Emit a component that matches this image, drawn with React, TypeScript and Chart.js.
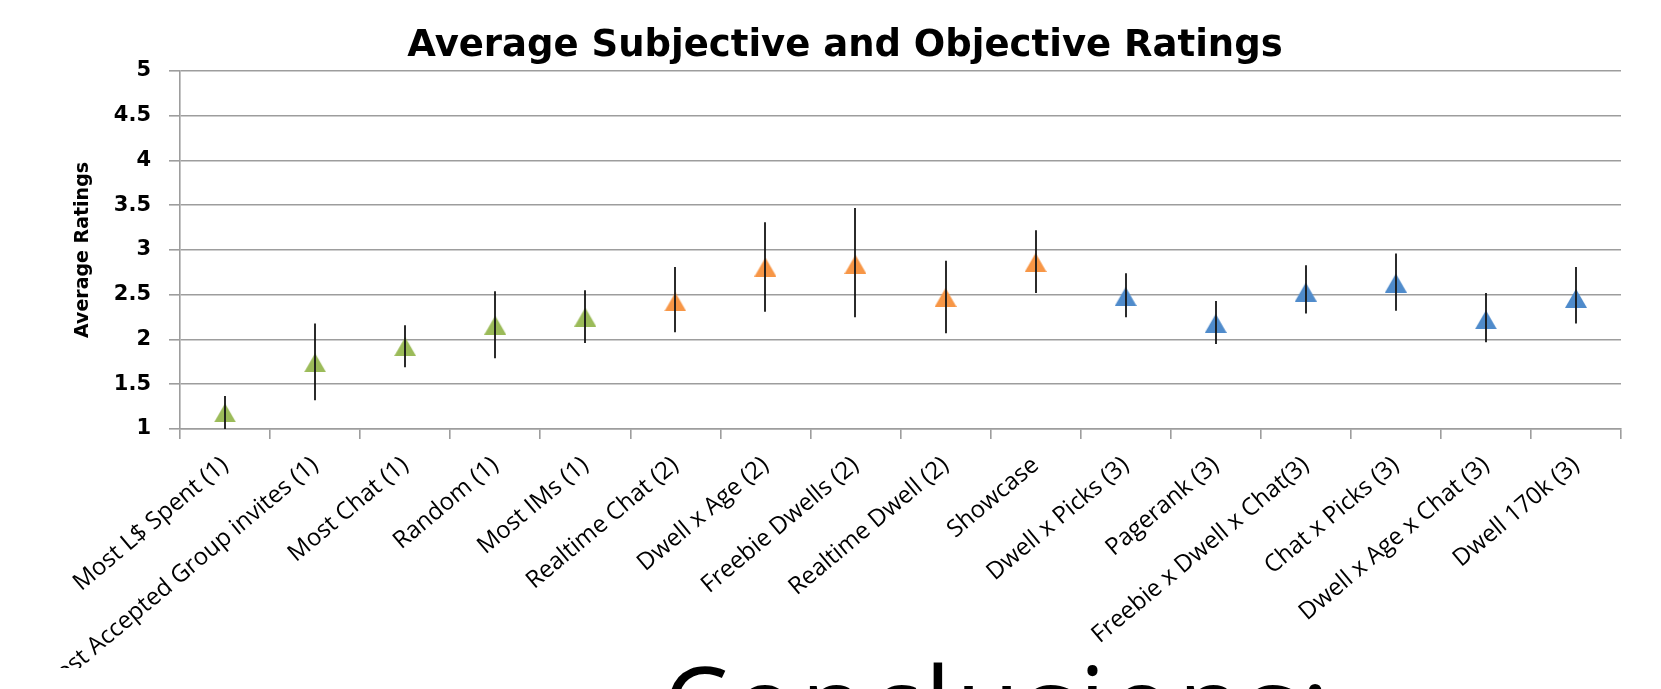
import { useEffect, useRef } from "react";
import { Chart, registerables } from "chart.js";

Chart.register(...registerables);

const categories = [
  "Most L$ Spent (1)",
  "Most Accepted Group invites (1)",
  "Most Chat (1)",
  "Random (1)",
  "Most IMs (1)",
  "Realtime Chat (2)",
  "Dwell x Age (2)",
  "Freebie Dwells (2)",
  "Realtime Dwell (2)",
  "Showcase",
  "Dwell x Picks (3)",
  "Pagerank (3)",
  "Freebie x Dwell x Chat(3)",
  "Chat x Picks (3)",
  "Dwell x Age x Chat (3)",
  "Dwell 170k (3)",
];

const averages = [1.18, 1.74, 1.92, 2.16, 2.25, 2.42, 2.81, 2.84, 2.47, 2.86, 2.48, 2.18, 2.53, 2.63, 2.22, 2.46];
const errLow = [1.0, 1.32, 1.69, 1.79, 1.96, 2.08, 2.31, 2.25, 2.07, 2.52, 2.25, 1.95, 2.29, 2.32, 1.97, 2.18];
const errHigh = [1.37, 2.18, 2.16, 2.54, 2.55, 2.81, 3.31, 3.47, 2.88, 3.22, 2.74, 2.43, 2.83, 2.96, 2.52, 2.81];
const groups = [1, 1, 1, 1, 1, 2, 2, 2, 2, 2, 3, 3, 3, 3, 3, 3];
const yTickLabels = ["1", "1.5", "2", "2.5", "3", "3.5", "4", "4.5", "5"];

const groupColors: Record<number, string> = { 1: "#9BBB59", 2: "#F79646", 3: "#4F8BCB" };

function makeTriangle(color: string): HTMLCanvasElement {
  const c = document.createElement("canvas");
  c.width = 22;
  c.height = 19;
  const ctx = c.getContext("2d")!;
  ctx.fillStyle = color;
  ctx.beginPath();
  ctx.moveTo(11, 0);
  ctx.lineTo(22, 19);
  ctx.lineTo(0, 19);
  ctx.closePath();
  ctx.fill();
  return c;
}

const errorBarPlugin = {
  id: "errorBars",
  afterDatasetsDraw(chart: any) {
    const { ctx, scales } = chart;
    const x = scales.x;
    const y = scales.y;
    ctx.save();
    ctx.strokeStyle = "rgba(20,20,20,0.9)";
    ctx.lineWidth = 2;
    categories.forEach((_, i) => {
      const px = Math.round(x.getPixelForValue(i));
      ctx.beginPath();
      ctx.moveTo(px, y.getPixelForValue(errLow[i]));
      ctx.lineTo(px, y.getPixelForValue(errHigh[i]));
      ctx.stroke();
    });
    ctx.restore();
  },
};

export default function App() {
  const canvasRef = useRef<HTMLCanvasElement | null>(null);

  useEffect(() => {
    if (!canvasRef.current) return;
    const tri: Record<number, HTMLCanvasElement> = {
      1: makeTriangle(groupColors[1]),
      2: makeTriangle(groupColors[2]),
      3: makeTriangle(groupColors[3]),
    };
    const gridColor = "#9d9d9d";
    const chart = new Chart(canvasRef.current, {
      type: "line",
      data: {
        labels: categories,
        datasets: [
          {
            data: averages,
            showLine: false,
            pointStyle: groups.map((g) => tri[g]) as any,
            pointRadius: 11,
            pointHoverRadius: 11,
            backgroundColor: groups.map((g) => groupColors[g]),
            borderColor: groups.map((g) => groupColors[g]),
            borderWidth: 0,
          },
        ],
      },
      options: {
        responsive: false,
        animation: false,
        devicePixelRatio: 1,
        events: [],
        layout: { padding: { left: 69, right: 40, top: 0, bottom: 0 } },
        plugins: {
          legend: { display: false },
          tooltip: { enabled: false },
          title: {
            display: true,
            text: "Average Subjective and Objective Ratings",
            color: "#000",
            font: { family: "DejaVu Sans", size: 37, weight: "bold", lineHeight: 1 },
            padding: { top: 28, bottom: 6 },
          },
        },
        scales: {
          x: {
            type: "category",
            offset: true,
            grid: {
              offset: true,
              drawOnChartArea: false,
              drawTicks: true,
              tickLength: 10,
              color: gridColor,
              lineWidth: 1.6,
            },
            border: { display: true, color: gridColor, width: 1.6 },
            ticks: {
              autoSkip: false,
              maxRotation: 40,
              minRotation: 40,
              padding: 12,
              color: "#000",
              font: { family: "'Open Sans'", size: 24 },
            },
            afterFit(scale: any) {
              scale.height = 239;
              scale.paddingLeft = 0;
              scale.paddingRight = 0;
            },
          },
          y: {
            min: 1,
            max: 5,
            grid: { color: gridColor, lineWidth: 1.6, tickLength: 11, drawTicks: true },
            border: { display: true, color: gridColor, width: 1.6 },
            ticks: {
              stepSize: 0.5,
              padding: 18,
              color: "#000",
              font: { family: "DejaVu Sans", size: 21, weight: "bold" },
              callback: (v: any) => yTickLabels[Math.round((Number(v) - 1) * 2)] ?? "",
            },
            title: {
              display: true,
              text: "Average Ratings",
              color: "#000",
              font: { family: "DejaVu Sans", size: 19, weight: "bold", lineHeight: 1.2 },
              padding: { top: 3, bottom: 0 },
            },
            afterFit(scale: any) {
              scale.width = 111;
            },
          },
        },
      },
      plugins: [errorBarPlugin],
    });
    return () => chart.destroy();
  }, []);

  return (
    <div
      style={{
        position: "absolute",
        left: 0,
        top: 0,
        width: 1661,
        height: 689,
        overflow: "hidden",
        background: "#fff",
      }}
    >
      <canvas ref={canvasRef} width={1661} height={668} style={{ display: "block", width: 1661, height: 668 }} />
      <div
        style={{
          position: "absolute",
          left: 663,
          top: 650,
          fontFamily: "'Open Sans', sans-serif",
          fontSize: 104,
          lineHeight: 1,
          letterSpacing: 5,
          whiteSpace: "nowrap",
          color: "#000",
        }}
      >
        Conclusions:
      </div>
    </div>
  );
}
